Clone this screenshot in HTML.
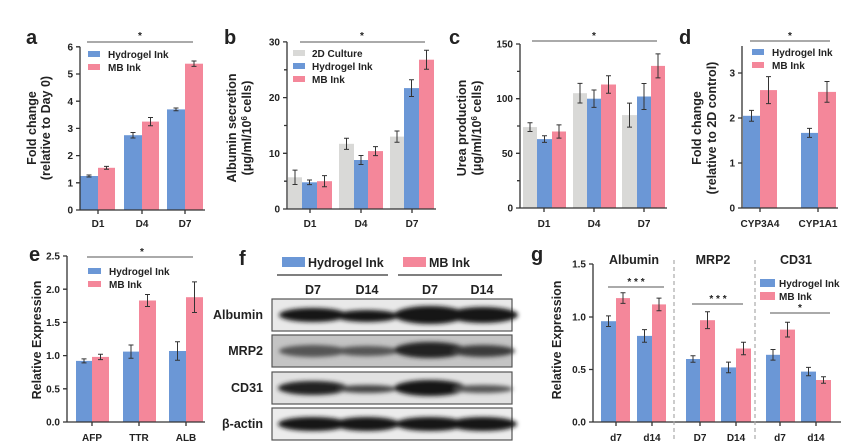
<!DOCTYPE html>
<html><head><meta charset="utf-8"><style>
html,body{margin:0;padding:0;background:#fff}
svg{display:block}
text{font-family:"Liberation Sans",Arial,sans-serif;font-weight:bold;fill:#222}
.t{font-size:10px}
.l{font-size:12.5px}
.P{font-size:20px}
.ax{stroke:#333;stroke-width:1.3;fill:none}
.e{stroke:#333;stroke-width:1;fill:none}
.b{fill:#6b97d6}.p{fill:#f4879a}.g{fill:#d9d9d7}
</style></head><body>
<svg width="857" height="447" viewBox="0 0 857 447" xmlns="http://www.w3.org/2000/svg">
<defs><filter id="bl" x="-20%" y="-50%" width="140%" height="200%"><feGaussianBlur stdDeviation="2.2"/></filter></defs>

<!-- Panel a -->
<text class="P" x="26" y="44">a</text>
<g class="b"><rect x="80" y="176" width="18" height="34"/><rect x="124" y="135.2" width="18" height="74.8"/><rect x="167" y="109.4" width="18" height="100.6"/></g>
<g class="p"><rect x="98" y="167.8" width="17" height="42.2"/><rect x="142" y="121.6" width="17" height="88.4"/><rect x="185" y="63.7" width="18" height="146.3"/></g>
<path class="e" d="M89 175V177M86.5 175h5M86.5 177h5 M106.5 166.4V169.2M104 166.4h5M104 169.2h5 M133 132.5V138M130.5 132.5h5M130.5 138h5 M150.5 117.5V125.7M148 117.5h5M148 125.7h5 M176 108V110.8M173.5 108h5M173.5 110.8h5 M194 61V66.4M191.5 61h5M191.5 66.4h5"/>
<path class="ax" d="M80 46.8V210H205 M76 46.8h4M76 74h4M76 101.2h4M76 128.4h4M76 155.6h4M76 182.8h4M76 210h4 M98 210v4M142 210v4M185 210v4"/>
<g class="t" text-anchor="end"><text x="73" y="213.5">0</text><text x="73" y="186.5">1</text><text x="73" y="159">2</text><text x="73" y="132">3</text><text x="73" y="105">4</text><text x="73" y="77.5">5</text><text x="73" y="50.5">6</text></g>
<g class="t" text-anchor="middle"><text x="98" y="227">D1</text><text x="142" y="227">D4</text><text x="185" y="227">D7</text></g>
<path d="M87 42H193" stroke="#555" stroke-width="1"/><text class="t" x="140" y="39" text-anchor="middle">*</text>
<rect class="b" x="88" y="51" width="12" height="6"/><text class="t" x="108" y="58">Hydrogel Ink</text>
<rect class="p" x="88" y="64" width="12" height="6"/><text class="t" x="108" y="71">MB Ink</text>
<g class="l" text-anchor="middle"><text transform="translate(36,128) rotate(-90)">Fold change</text><text transform="translate(50,128) rotate(-90)">(relative to Day 0)</text></g>

<!-- Panel b -->
<text class="P" x="224" y="44">b</text>
<g class="g"><rect x="288" y="177.3" width="14" height="31.7"/><rect x="339" y="143.8" width="15" height="65.2"/><rect x="390" y="136.6" width="14" height="72.4"/></g>
<g class="b"><rect x="302" y="182.3" width="15" height="26.7"/><rect x="354" y="160" width="14" height="49"/><rect x="404" y="88.1" width="15" height="120.9"/></g>
<g class="p"><rect x="317" y="181.2" width="15" height="27.8"/><rect x="368" y="151.1" width="15" height="57.9"/><rect x="419" y="59.7" width="15" height="149.3"/></g>
<path class="e" d="M295 170.1V184.5M292.5 170.1h5M292.5 184.5h5 M346.5 138.2V149.4M344 138.2h5M344 149.4h5 M397 131V142.2M394.5 131h5M394.5 142.2h5 M309.5 180V184.6M307 180h5M307 184.6h5 M361 155.5V164.5M358.5 155.5h5M358.5 164.5h5 M411.5 79.7V96.5M409 79.7h5M409 96.5h5 M324.5 175.6V186.8M322 175.6h5M322 186.8h5 M375.5 146.6V155.6M373 146.6h5M373 155.6h5 M426.5 50.2V69.2M424 50.2h5M424 69.2h5"/>
<path class="ax" d="M287 41.9V209H436 M283 41.9h4M284 69.8h3M283 97.6h4M284 125.5h3M283 153.3h4M284 181.2h3M283 209h4 M310 209v4M361 209v4M412 209v4"/>
<g class="t" text-anchor="end"><text x="280" y="212.5">0</text><text x="280" y="157">10</text><text x="280" y="101">20</text><text x="280" y="45.5">30</text></g>
<g class="t" text-anchor="middle"><text x="310" y="227">D1</text><text x="361" y="227">D4</text><text x="412" y="227">D7</text></g>
<path d="M300 42H425" stroke="#555" stroke-width="1"/><text class="t" x="362" y="39" text-anchor="middle">*</text>
<rect class="g" x="293" y="50" width="12" height="6"/><text class="t" x="312" y="57">2D Culture</text>
<rect class="b" x="293" y="63" width="12" height="6"/><text class="t" x="312" y="70">Hydrogel Ink</text>
<rect class="p" x="293" y="76" width="12" height="6"/><text class="t" x="312" y="83">MB Ink</text>
<g class="l" text-anchor="middle"><text transform="translate(236,128) rotate(-90)">Albumin secretion</text><text transform="translate(251,128) rotate(-90)">(μg/ml/10<tspan font-size="8" dy="-4">6</tspan><tspan dy="4"> cells)</tspan></text></g>

<!-- Panel c -->
<text class="P" x="449" y="44">c</text>
<g class="g"><rect x="523" y="127.1" width="14" height="80.9"/><rect x="573" y="93.2" width="14" height="114.8"/><rect x="622" y="115.1" width="15" height="92.9"/></g>
<g class="b"><rect x="537" y="139.1" width="15" height="68.9"/><rect x="587" y="98.7" width="14" height="109.3"/><rect x="637" y="96.5" width="14" height="111.5"/></g>
<g class="p"><rect x="552" y="131.5" width="14" height="76.5"/><rect x="601" y="84.5" width="15" height="123.5"/><rect x="651" y="65.9" width="14" height="142.1"/></g>
<path class="e" d="M530 122.7V131.5M527.5 122.7h5M527.5 131.5h5 M580 83.4V103M577.5 83.4h5M577.5 103h5 M629.5 103.1V127.1M627 103.1h5M627 127.1h5 M544.5 135.8V142.4M542 135.8h5M542 142.4h5 M594 90V107.4M591.5 90h5M591.5 107.4h5 M644 83.5V109.5M641.5 83.5h5M641.5 109.5h5 M559 124.9V138.1M556.5 124.9h5M556.5 138.1h5 M608.5 75.8V93.2M606 75.8h5M606 93.2h5 M658 53.9V77.9M655.5 53.9h5M655.5 77.9h5"/>
<path class="ax" d="M520 44V208H667 M516 44h4M517 71.4h3M516 98.7h4M517 126h3M516 153.3h4M517 180.7h3M516 208h4 M544 208v4M594 208v4M644 208v4"/>
<g class="t" text-anchor="end"><text x="513" y="211.5">0</text><text x="513" y="157">50</text><text x="513" y="102">100</text><text x="513" y="47.5">150</text></g>
<g class="t" text-anchor="middle"><text x="544" y="227">D1</text><text x="594" y="227">D4</text><text x="644" y="227">D7</text></g>
<path d="M532 41H657" stroke="#555" stroke-width="1"/><text class="t" x="594" y="39" text-anchor="middle">*</text>
<g class="l" text-anchor="middle"><text transform="translate(466,128) rotate(-90)">Urea production</text><text transform="translate(481,128) rotate(-90)">(μg/ml/10<tspan font-size="8" dy="-4">6</tspan><tspan dy="4"> cells)</tspan></text></g>

<!-- Panel d -->
<text class="P" x="679" y="44">d</text>
<g class="b"><rect x="743" y="115.8" width="17" height="92.2"/><rect x="801" y="132.9" width="17" height="75.1"/></g>
<g class="p"><rect x="760" y="90.1" width="17" height="117.9"/><rect x="818" y="91.9" width="18" height="116.1"/></g>
<path class="e" d="M751.5 110.4V121.2M749 110.4h5M749 121.2h5 M768.5 76.6V103.6M766 76.6h5M766 103.6h5 M809.5 128.4V137.4M807 128.4h5M807 137.4h5 M827 81.5V102.3M824.5 81.5h5M824.5 102.3h5"/>
<path class="ax" d="M742 46V208H838 M738 73h4M738 118h4M738 163h4M738 208h4 M760 208v4M818 208v4"/>
<g class="t" text-anchor="end"><text x="735" y="211.5">0</text><text x="735" y="166.5">1</text><text x="735" y="121.5">2</text><text x="735" y="76.5">3</text></g>
<g class="t" text-anchor="middle"><text x="760" y="227">CYP3A4</text><text x="818" y="227">CYP1A1</text></g>
<path d="M750 41H830" stroke="#555" stroke-width="1"/><text class="t" x="790" y="39" text-anchor="middle">*</text>
<rect class="b" x="752" y="49" width="12" height="6"/><text class="t" x="772" y="56">Hydrogel Ink</text>
<rect class="p" x="752" y="62" width="12" height="6"/><text class="t" x="772" y="69">MB Ink</text>
<g class="l" text-anchor="middle"><text transform="translate(701,128) rotate(-90)">Fold change</text><text transform="translate(716,128) rotate(-90)">(relative to 2D control)</text></g>

<!-- Panel e -->
<text class="P" x="29" y="261">e</text>
<g class="b"><rect x="76" y="360.9" width="16" height="61.1"/><rect x="123" y="351.6" width="16" height="70.4"/><rect x="169" y="351" width="17" height="71"/></g>
<g class="p"><rect x="92" y="356.9" width="17" height="65.1"/><rect x="139" y="300.5" width="17" height="121.5"/><rect x="186" y="297.2" width="17" height="124.8"/></g>
<path class="e" d="M84 358.9V362.9M81.5 358.9h5M81.5 362.9h5 M131 345V358.2M128.5 345h5M128.5 358.2h5 M177.5 341.7V360.3M175 341.7h5M175 360.3h5 M100.5 354.2V359.6M98 354.2h5M98 359.6h5 M147.5 294.5V306.5M145 294.5h5M145 306.5h5 M194.5 281.9V312.5M192 281.9h5M192 312.5h5"/>
<path class="ax" d="M67 256V422H205 M63 256h4M63 289.2h4M63 322.4h4M63 355.6h4M63 388.8h4M63 422h4 M92 422v4M139 422v4M186 422v4"/>
<g class="t" text-anchor="end"><text x="60" y="425.5">0.0</text><text x="60" y="392.5">0.5</text><text x="60" y="359">1.0</text><text x="60" y="326">1.5</text><text x="60" y="293">2.0</text><text x="60" y="259.5">2.5</text></g>
<g class="t" text-anchor="middle"><text x="92" y="441">AFP</text><text x="139" y="441">TTR</text><text x="186" y="441">ALB</text></g>
<path d="M87 257H193" stroke="#555" stroke-width="1"/><text class="t" x="142" y="255" text-anchor="middle">*</text>
<rect class="b" x="88" y="268" width="13" height="6"/><text class="t" x="109" y="275">Hydrogel Ink</text>
<rect class="p" x="88" y="281" width="13" height="6"/><text class="t" x="109" y="288">MB Ink</text>
<text class="l" text-anchor="middle" transform="translate(41,340) rotate(-90)">Relative Expression</text>

<!-- Panel f -->
<text class="P" x="239" y="265">f</text>
<rect class="b" x="282" y="257" width="23" height="10"/><text class="l" x="308" y="267">Hydrogel Ink</text>
<rect class="p" x="403" y="257" width="23" height="10"/><text class="l" x="429" y="267">MB Ink</text>
<path d="M277 275H388M398 275H502" stroke="#333" stroke-width="1.2"/>
<g class="l" text-anchor="middle"><text x="313" y="294">D7</text><text x="367" y="294">D14</text><text x="430" y="294">D7</text><text x="482" y="294">D14</text></g>
<g stroke="#555" stroke-width="1.2">
<rect x="272" y="299" width="240" height="32" fill="#e9e9e9"/>
<rect x="272" y="335" width="240" height="32" fill="#c4c4c4"/>
<rect x="272" y="372" width="240" height="32" fill="#e2e2e2"/>
<rect x="272" y="408" width="240" height="32" fill="#ececec"/>
</g>
<g filter="url(#bl)" fill="#151515">
<ellipse cx="313" cy="315" rx="34" ry="7"/><ellipse cx="367" cy="316" rx="32" ry="6"/><ellipse cx="430" cy="315" rx="36" ry="9"/><ellipse cx="483" cy="315" rx="35" ry="8"/>
<ellipse cx="313" cy="351" rx="34" ry="6" fill="#555"/><ellipse cx="367" cy="351" rx="32" ry="5" fill="#555"/><ellipse cx="430" cy="350" rx="36" ry="8" fill="#222"/><ellipse cx="483" cy="351" rx="32" ry="6" fill="#3a3a3a"/>
<ellipse cx="313" cy="388" rx="35" ry="7" fill="#222"/><ellipse cx="367" cy="389" rx="30" ry="4" fill="#444"/><ellipse cx="430" cy="388" rx="36" ry="8"/><ellipse cx="483" cy="389" rx="30" ry="4" fill="#555"/>
<ellipse cx="313" cy="424" rx="35" ry="7"/><ellipse cx="367" cy="424" rx="33" ry="7"/><ellipse cx="430" cy="424" rx="35" ry="7"/><ellipse cx="483" cy="424" rx="34" ry="7"/>
</g>
<g class="l" text-anchor="end"><text x="263" y="319">Albumin</text><text x="263" y="355">MRP2</text><text x="263" y="392">CD31</text><text x="263" y="428">β-actin</text></g>

<!-- Panel g -->
<text class="P" x="531" y="261">g</text>
<g class="b"><rect x="601" y="321.2" width="15" height="100.8"/><rect x="637" y="335.9" width="15" height="86.1"/><rect x="686" y="359" width="14" height="63"/><rect x="721" y="367.4" width="15" height="54.6"/><rect x="766" y="354.8" width="14" height="67.2"/><rect x="801" y="371.6" width="15" height="50.4"/></g>
<g class="p"><rect x="616" y="298.1" width="14" height="123.9"/><rect x="652" y="304.4" width="14" height="117.6"/><rect x="700" y="320.2" width="15" height="101.8"/><rect x="736" y="348.5" width="15" height="73.5"/><rect x="780" y="329.6" width="15" height="92.4"/><rect x="816" y="380" width="15" height="42"/></g>
<path class="e" d="M608.5 315.9V326.5M606 315.9h5M606 326.5h5 M623 292.8V303.4M620.5 292.8h5M620.5 303.4h5 M644.5 329.6V342.2M642 329.6h5M642 342.2h5 M659 298.1V310.7M656.5 298.1h5M656.5 310.7h5 M693 355.8V362.2M690.5 355.8h5M690.5 362.2h5 M707.5 311.8V328.6M705 311.8h5M705 328.6h5 M728.5 362.1V372.7M726 362.1h5M726 372.7h5 M743.5 342.2V354.8M741 342.2h5M741 354.8h5 M773 349.5V360.1M770.5 349.5h5M770.5 360.1h5 M787.5 322.2V337M785 322.2h5M785 337h5 M808.5 367.4V375.8M806 367.4h5M806 375.8h5 M823.5 376.8V383.2M821 376.8h5M821 383.2h5"/>
<path class="ax" d="M593 264V422H841 M589 264h4M589 317h4M589 369.5h4M589 422h4 M616 422v4M652 422v4M700 422v4M736 422v4M780 422v4M816 422v4"/>
<path d="M674 260V440M755 260V440" stroke="#aaa" stroke-width="1.2" stroke-dasharray="4,3"/>
<g class="t" text-anchor="end"><text x="586" y="425.5">0.0</text><text x="586" y="373">0.5</text><text x="586" y="320.5">1.0</text><text x="586" y="267.5">1.5</text></g>
<g class="t" text-anchor="middle"><text x="616" y="441">d7</text><text x="652" y="441">d14</text><text x="700" y="441">D7</text><text x="736" y="441">D14</text><text x="780" y="441">d7</text><text x="816" y="441">d14</text></g>
<g class="l" text-anchor="middle"><text x="634" y="264">Albumin</text><text x="713" y="264">MRP2</text><text x="796" y="264">CD31</text></g>
<path d="M608 287H664M692 304H743M770 313H830" stroke="#555" stroke-width="1"/>
<g class="t" text-anchor="middle"><text x="636" y="285">* * *</text><text x="718" y="302">* * *</text><text x="800" y="311">*</text></g>
<rect class="b" x="760" y="279" width="15" height="8"/><text class="t" x="779" y="287">Hydrogel Ink</text>
<rect class="p" x="760" y="292" width="15" height="8"/><text class="t" x="779" y="300">MB Ink</text>
<text class="l" text-anchor="middle" transform="translate(561,340) rotate(-90)">Relative Expression</text>
</svg>
</body></html>
